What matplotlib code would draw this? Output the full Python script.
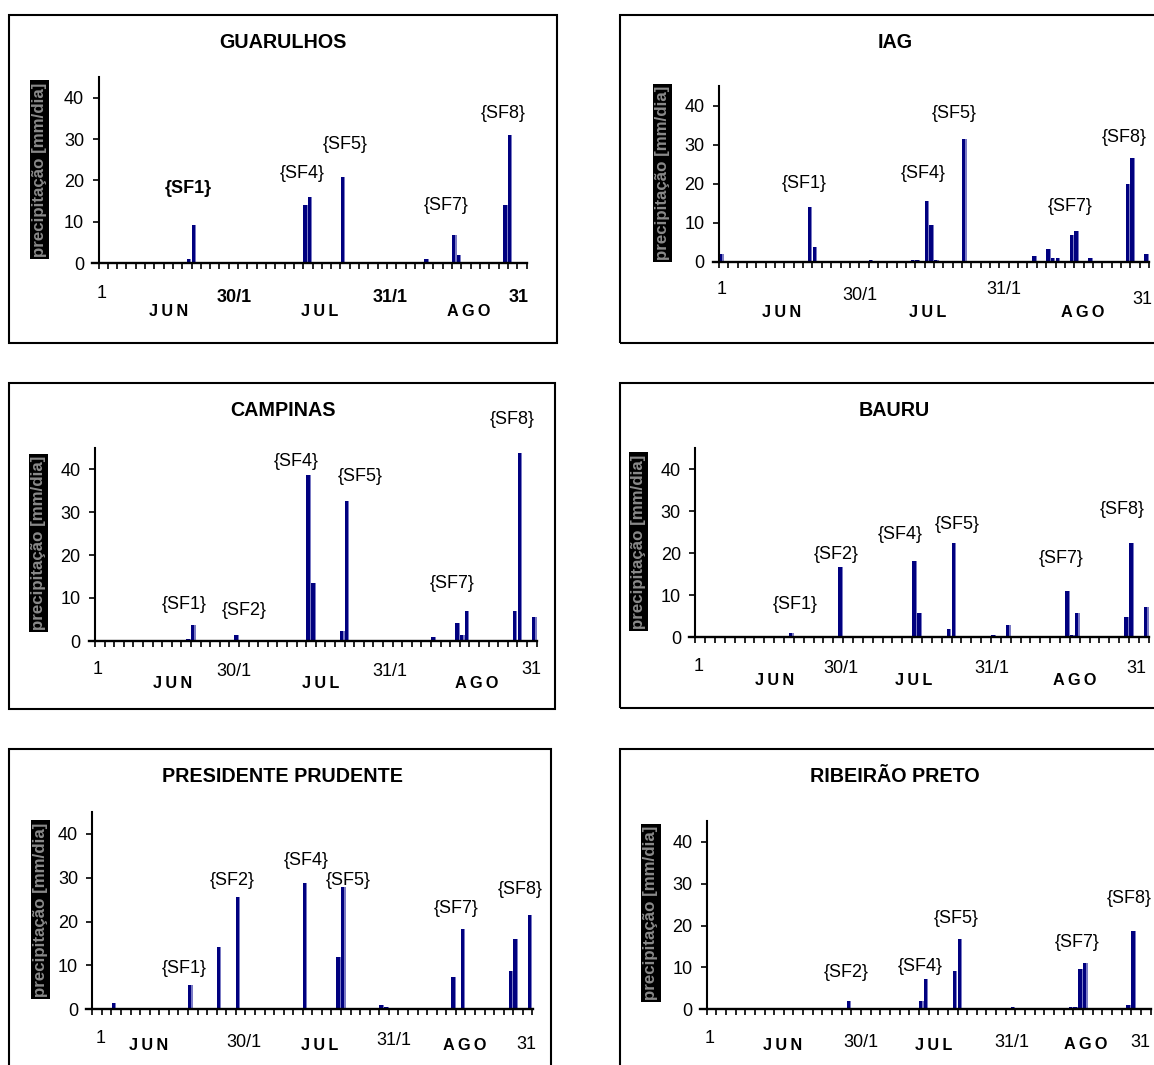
import numpy as np
import matplotlib
matplotlib.use("Agg")
import matplotlib.pyplot as plt
from matplotlib.patches import Rectangle

plt.rcParams['font.family'] = ['Liberation Sans', 'DejaVu Sans']

W, H = 1154, 1065

# Daily rain, jun-ago. Day index: 0 = 1 jun, 30 = 1 jul, 61 = 1 ago, 91 = 31 ago
guarulhos_days = [19, 20, 44, 45, 52, 70, 76, 77, 87, 88]
guarulhos_mm = [1.0, 9.2, 14.0, 16.0, 20.8, 1.0, 6.8, 1.9, 14.0, 31.0]

iag_days = [0, 19, 20, 32, 41, 42, 44, 45, 46, 52, 67, 70, 71, 72, 75, 76, 79, 87, 88, 91]
iag_mm = [2.0, 13.9, 3.7, 0.5, 0.5, 0.5, 15.5, 9.4, 0.5, 31.4, 1.5, 3.2, 1.0, 1.0,
          6.7, 7.8, 1.0, 20.0, 26.7, 2.0]

campinas_days = [19, 20, 29, 44, 45, 51, 52, 70, 75, 76, 77, 87, 88, 91]
campinas_mm = [0.5, 3.7, 1.3, 38.5, 13.5, 2.3, 32.6, 0.9, 4.2, 1.4, 7.0, 7.0, 43.7, 5.6]

bauru_days = [19, 29, 44, 45, 51, 52, 60, 63, 75, 76, 77, 87, 88, 91]
bauru_mm = [1.0, 16.7, 18.2, 5.9, 2.0, 22.5, 0.5, 2.9, 11.0, 0.5, 5.8, 4.9, 22.5, 7.3]

prudente_days = [4, 20, 26, 30, 44, 51, 52, 60, 61, 75, 77, 87, 88, 91]
prudente_mm = [1.4, 5.5, 14.2, 25.5, 28.7, 11.9, 27.8, 1.0, 0.5, 7.3, 18.3, 8.7, 16.0, 21.4]

ribeirao_days = [29, 44, 45, 51, 52, 63, 75, 76, 77, 78, 87, 88]
ribeirao_mm = [2.0, 2.0, 7.2, 9.1, 16.7, 0.5, 0.5, 0.5, 9.6, 11.0, 1.0, 18.7]

stations = ["GUARULHOS", "IAG", "CAMPINAS", "BAURU", "PRESIDENTE PRUDENTE", "RIBEIRÃO PRETO"]
all_days = [guarulhos_days, iag_days, campinas_days, bauru_days, prudente_days, ribeirao_days]
all_mm = [guarulhos_mm, iag_mm, campinas_mm, bauru_mm, prudente_mm, ribeirao_mm]

# frente fria labels (name, day, mm)
sf_guarulhos = [("{SF1}", 19.4, 18.1), ("{SF4}", 43.8, 21.7), ("{SF5}", 53.0, 28.6),
                ("{SF7}", 74.8, 13.8), ("{SF8}", 86.9, 36.2)]
sf_iag = [("{SF1}", 18.3, 20.1), ("{SF4}", 43.6, 22.6), ("{SF5}", 50.3, 38.0),
          ("{SF7}", 75.2, 14.1), ("{SF8}", 86.7, 31.9)]
sf_campinas = [("{SF1}", 18.6, 8.4), ("{SF2}", 31.0, 7.0), ("{SF4}", 41.9, 41.7),
               ("{SF5}", 55.3, 38.2), ("{SF7}", 74.5, 13.3), ("{SF8}", 86.9, 51.4)]
sf_bauru = [("{SF1}", 20.2, 7.9), ("{SF2}", 28.7, 19.6), ("{SF4}", 41.6, 24.5),
            ("{SF5}", 53.1, 26.9), ("{SF7}", 74.2, 18.8), ("{SF8}", 86.7, 30.5)]
sf_prudente = [("{SF1}", 19.2, 9.3), ("{SF2}", 29.2, 29.3), ("{SF4}", 44.8, 33.8),
               ("{SF5}", 53.6, 29.3), ("{SF7}", 76.1, 23.0), ("{SF8}", 89.5, 27.2)]
sf_ribeirao = [("{SF2}", 29.0, 8.8), ("{SF4}", 44.3, 10.2), ("{SF5}", 51.8, 21.7),
               ("{SF7}", 76.8, 16.0), ("{SF8}", 87.6, 26.5)]
all_sf = [sf_guarulhos, sf_iag, sf_campinas, sf_bauru, sf_prudente, sf_ribeirao]

date_labels = ["1", "30/1", "31/1", "31"]
month_labels = ["J\u2009U\u2009N", "J\u2009U\u2009L", "A\u2009G\u2009O"]
yticks = [0, 10, 20, 30, 40]

# layout in pixels: axis x of day 0 / day 92, pixel y of 0 and 40 mm
layout = [
    dict(x0=98.5, x1=526.5, y0=263.0, y40=97.7, box=(9, 15, 557, 343), title=(283, 43), ylab=(39.5, 169.5),
         dates=[(0.75, 30), (29.2, 35), (62.7, 35), (90.3, 35)], months=[(15.0, 49), (47.5, 49), (79.6, 49)],
         bold_dates=True),
    dict(x0=719.0, x1=1149.0, y0=261.5, y40=105.7, box=(620, 15, 1200, 343), title=(895, 43), ylab=(662.5, 173),
         dates=[(0.5, 28.5), (30.2, 33.5), (61.0, 28.5), (90.5, 38.5)], months=[(13.3, 51), (44.7, 51), (77.8, 51)],
         bold_dates=False),
    dict(x0=95.0, x1=536.7, y0=641.0, y40=469.0, box=(9, 383, 555, 709), title=(283, 410), ylab=(38.5, 543),
         dates=[(0.5, 29), (29.0, 31), (61.4, 31), (90.9, 29)], months=[(16.2, 43), (47.1, 43), (79.5, 43)],
         bold_dates=False),
    dict(x0=695.2, x1=1148.8, y0=637.3, y40=469.3, box=(620, 383, 1200, 708), title=(894, 410), ylab=(638.5, 541.5),
         dates=[(0.7, 29.5), (29.6, 31.5), (60.1, 31.5), (89.5, 31.5)], months=[(16.2, 43), (44.4, 43), (77.0, 43)],
         bold_dates=False),
    dict(x0=92.3, x1=532.4, y0=1009.3, y40=833.7, box=(9, 749, 551, 1100), title=(283, 776), ylab=(40.5, 909.5),
         dates=[(1.8, 29), (31.6, 33), (63.0, 31.5), (90.8, 35.5)], months=[(11.7, 36.5), (47.5, 36.5), (77.8, 36.5)],
         bold_dates=False),
    dict(x0=706.6, x1=1150.5, y0=1009.3, y40=841.7, box=(620, 749, 1200, 1100), title=(895, 776), ylab=(651, 913),
         dates=[(0.7, 29), (32.0, 33), (63.2, 33), (89.8, 33)], months=[(15.7, 36.5), (47.1, 36.5), (78.6, 35)],
         bold_dates=False),
]

fig = plt.figure(figsize=(W / 100, H / 100), dpi=100)

XMIN, XMAX, YMAX = -1.35, 92.1, 45

for name, days, mm, sf, lay in zip(stations, all_days, all_mm, all_sf, layout):
    pxd = (lay["x1"] - lay["x0"]) / 92.0
    ppu = (lay["y0"] - lay["y40"]) / 40.0
    left = lay["x0"] + XMIN * pxd
    right = lay["x0"] + XMAX * pxd
    top = lay["y0"] - YMAX * ppu
    ax = fig.add_axes([left / W, 1 - lay["y0"] / H, (right - left) / W, (lay["y0"] - top) / H])

    d = np.array(days, dtype=float)
    # bars: light strip on right, dark body
    ax.bar(d + 0.02, mm, width=0.95, align="edge", color="#7b7bc4", linewidth=0)
    ax.bar(d + 0.02, mm, width=0.7, align="edge", color="#00007f", linewidth=0)

    ax.set_xlim(XMIN, XMAX)
    ax.set_ylim(0, YMAX)
    for s in ["top", "right"]:
        ax.spines[s].set_visible(False)
    ax.spines["left"].set_position(("data", 0))
    ax.spines["left"].set_linewidth(1.5)
    ax.spines["bottom"].set_linewidth(1.7)
    ax.set_xticks(np.arange(0, 93, 2))
    ax.set_xticklabels([])
    ax.tick_params(axis="x", direction="out", length=4, width=1.2)
    ax.set_yticks(yticks)
    ax.tick_params(axis="y", direction="out", length=4.3, width=1.2, labelsize=13, pad=6)
    ax.patch.set_alpha(0)

    for (txt, x, y) in sf:
        bold = (name == "GUARULHOS" and txt == "{SF1}")
        ax.text(x, y, txt, fontsize=13, ha="center", va="center", clip_on=False,
                fontweight="bold" if bold else "normal")

    for i, (txt, (x, dy)) in enumerate(zip(date_labels, lay["dates"])):
        bold = lay["bold_dates"] and i > 0
        ax.annotate(txt, xy=(x, 0), xycoords="data", xytext=(0, -dy), textcoords="offset pixels",
                    ha="center", va="center", fontsize=13, fontweight="bold" if bold else "normal")
    for txt, (x, dy) in zip(month_labels, lay["months"]):
        ax.annotate(txt, xy=(x, 0), xycoords="data", xytext=(0, -dy), textcoords="offset pixels",
                    ha="center", va="center", fontsize=11.7, fontweight="bold")

    # panel frame and title
    bx0, by0, bx1, by1 = lay["box"]
    fig.patches.append(Rectangle((bx0 / W, 1 - by1 / H), (bx1 - bx0) / W, (by1 - by0) / H,
                                 transform=fig.transFigure, fill=False, edgecolor="black", linewidth=1.5))
    fig.text(lay["title"][0] / W, 1 - lay["title"][1] / H, name, ha="center", va="center",
             fontsize=14.2, fontweight="bold")
    fig.text(lay["ylab"][0] / W, 1 - lay["ylab"][1] / H, "precipitação [mm/dia]", rotation=90,
             ha="center", va="center", fontsize=12.2, fontweight="bold", color="#8a8a8a",
             bbox=dict(facecolor="black", edgecolor="none", pad=1.5))

fig.savefig("out.png", dpi=100)
